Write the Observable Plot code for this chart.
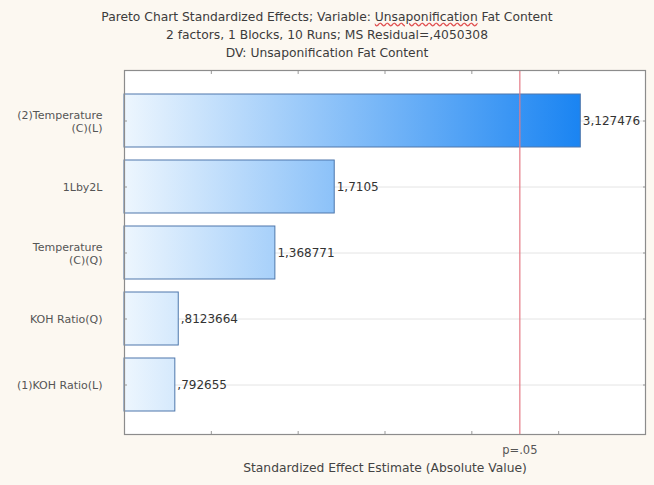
<!DOCTYPE html>
<html><head><meta charset="utf-8">
<script src="https://cdn.jsdelivr.net/npm/d3@7"></script>
<script src="https://cdn.jsdelivr.net/npm/@observablehq/plot@0.6"></script>
<style>
body{margin:0;background:#fcf8f1;font-family:"DejaVu Sans",sans-serif;}
#title{height:62px;box-sizing:border-box;padding-top:8px;text-align:center;font-size:12.3px;line-height:18px;color:#3c3c3c;}
.sp{text-decoration:underline wavy #e05050;}
#chart svg{display:block;}
</style></head><body>
<div id="title"><div>Pareto Chart Standardized Effects; Variable: <span class="sp">Unsaponification</span> Fat Content</div><div>2 factors, 1 Blocks, 10 Runs; MS Residual=,4050308</div><div>DV: Unsaponification Fat Content</div></div>
<div id="chart"></div>
<script>
const effects = ["(2)Temperature\n(C)(L)", "1Lby2L", "Temperature\n(C)(Q)", "KOH Ratio(Q)", "(1)KOH Ratio(L)"];
const values = [3.127476, 1.7105, 1.368771, 0.8123664, 0.792655];
const valueLabels = ["3,127476", "1,7105", "1,368771", ",8123664", ",792655"];
const xDomain = [0.5, 3.5];
const xTicks = [1, 1.5, 2, 2.5, 3];
const pCritical = 2.776445;
const pLabel = "p=.05";
const xLabel = "Standardized Effect Estimate (Absolute Value)";

const data = effects.map((e, i) => ({effect: e, value: values[i], label: valueLabels[i]}));

const chart = Plot.plot({
  width: 654,
  height: 423,
  marginLeft: 124,
  marginRight: 9,
  marginTop: 8,
  marginBottom: 51,
  style: {background: "#fcf8f1", fontFamily: "DejaVu Sans", fontSize: "12px", color: "#444"},
  x: {domain: xDomain, label: null},
  y: {domain: effects, paddingInner: 0.2, paddingOuter: 0.35, label: null},
  marks: [
    Plot.frame({fill: "white", stroke: null}),
    Plot.ruleY(data, {y: "effect", stroke: "#e4e4e4"}),
    Plot.barX(data, {y: "effect", x1: () => xDomain[0], x2: "value", fill: "url(#barGrad)", stroke: "#4e77ab", strokeWidth: 1}),
    Plot.ruleX([pCritical], {stroke: "#e57a86", strokeWidth: 1.2}),
    Plot.text(data, {x: "value", y: "effect", text: "label", textAnchor: "start", dx: 2, fontSize: 12, fill: "#333"}),
    Plot.axisY({anchor: "left", tickSize: 0, tickPadding: 22, fontSize: 11, fill: "#555", lineHeight: 1.25}),
    Plot.axisY({anchor: "left", tickSize: 3, dx: 3, tickFormat: () => "", stroke: "#999"}),
    Plot.axisY({anchor: "right", tickSize: 3, dx: -3, tickFormat: () => "", stroke: "#999"}),
    Plot.axisX({anchor: "bottom", ticks: xTicks, tickSize: 3, dy: -3, tickFormat: () => "", stroke: "#999"}),
    Plot.axisX({anchor: "top", ticks: xTicks, tickSize: 3, dy: 3, tickFormat: () => "", stroke: "#999"}),
    Plot.axisX({anchor: "bottom", ticks: [pCritical], tickSize: 0, tickPadding: 11, tickFormat: () => pLabel, fontSize: 11.5, fill: "#555"}),
    Plot.text([xLabel], {text: d => d, frameAnchor: "bottom", dy: 37, fontSize: 12.3, fill: "#444"}),
    Plot.frame({stroke: "#8c8c8c", strokeWidth: 1.2})
  ]
});

const xs = chart.scale("x");
const svg = d3.select(chart);
const defs = svg.insert("defs", ":first-child");
const grad = defs.append("linearGradient")
  .attr("id", "barGrad")
  .attr("gradientUnits", "userSpaceOnUse")
  .attr("x1", xs.apply(xDomain[0])).attr("x2", xs.apply(d3.max(values)))
  .attr("y1", 0).attr("y2", 0);
grad.append("stop").attr("offset", 0).attr("stop-color", "#edf6fe");
grad.append("stop").attr("offset", 1).attr("stop-color", "#1a84f2");

document.getElementById("chart").appendChild(chart);
</script>
</body></html>
